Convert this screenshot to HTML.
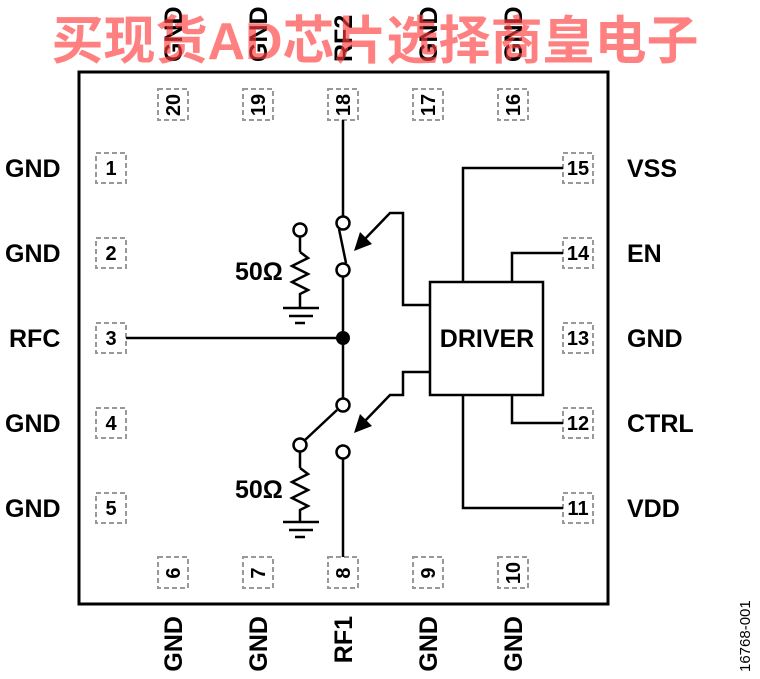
<!DOCTYPE html>
<html><head><meta charset="utf-8"><style>html,body{margin:0;padding:0;background:#fff}svg{display:block}</style></head>
<body>
<svg width="760" height="679" viewBox="0 0 760 679" xmlns="http://www.w3.org/2000/svg" font-family="Liberation Sans, Arial, sans-serif" font-weight="bold">
<rect x="79" y="72" width="529" height="532" fill="none" stroke="#000" stroke-width="3"/>
<g fill="none" stroke="#999" stroke-width="2" stroke-dasharray="5,3">
<rect x="96" y="153" width="30" height="30"/><rect x="96" y="238" width="30" height="30"/><rect x="96" y="323" width="30" height="30"/><rect x="96" y="408" width="30" height="30"/><rect x="96" y="493" width="30" height="30"/>
<rect x="563" y="153" width="30" height="30"/><rect x="563" y="238" width="30" height="30"/><rect x="563" y="323" width="30" height="30"/><rect x="563" y="408" width="30" height="30"/><rect x="563" y="493" width="30" height="30"/>
<rect x="158" y="89" width="30" height="31"/><rect x="243" y="89" width="30" height="31"/><rect x="328" y="89" width="30" height="31"/><rect x="413" y="89" width="30" height="31"/><rect x="498" y="89" width="30" height="31"/>
<rect x="158" y="557" width="30" height="31"/><rect x="243" y="557" width="30" height="31"/><rect x="328" y="557" width="30" height="31"/><rect x="413" y="557" width="30" height="31"/><rect x="498" y="557" width="30" height="31"/>
</g>
<g font-size="20" text-anchor="middle">
<text x="111" y="175">1</text><text x="111" y="260">2</text><text x="111" y="345">3</text><text x="111" y="430">4</text><text x="111" y="515">5</text>
<text x="578" y="175">15</text><text x="578" y="260">14</text><text x="578" y="345">13</text><text x="578" y="430">12</text><text x="578" y="515">11</text>
<text transform="translate(180,105) rotate(-90)">20</text><text transform="translate(265,105) rotate(-90)">19</text><text transform="translate(350,105) rotate(-90)">18</text><text transform="translate(435,105) rotate(-90)">17</text><text transform="translate(520,105) rotate(-90)">16</text>
<text transform="translate(180,573) rotate(-90)">6</text><text transform="translate(265,573) rotate(-90)">7</text><text transform="translate(350,573) rotate(-90)">8</text><text transform="translate(435,573) rotate(-90)">9</text><text transform="translate(520,573) rotate(-90)">10</text>
</g>
<g font-size="25">
<text x="5" y="177">GND</text><text x="9" y="347">RFC</text><text x="5" y="262">GND</text><text x="5" y="432">GND</text><text x="5" y="517">GND</text>
<text x="627" y="177">VSS</text><text x="627" y="262">EN</text><text x="627" y="347">GND</text><text x="627" y="432">CTRL</text><text x="627" y="517">VDD</text>
<text transform="translate(182,62) rotate(-90)">GND</text><text transform="translate(267,62) rotate(-90)">GND</text><text transform="translate(352,62) rotate(-90)">RF2</text><text transform="translate(437,62) rotate(-90)">GND</text><text transform="translate(522,62) rotate(-90)">GND</text>
<g text-anchor="end"><text transform="translate(182,616) rotate(-90)">GND</text><text transform="translate(267,616) rotate(-90)">GND</text><text transform="translate(352,616) rotate(-90)">RF1</text><text transform="translate(437,616) rotate(-90)">GND</text><text transform="translate(522,616) rotate(-90)">GND</text></g>
<text x="235" y="280">50Ω</text><text x="235" y="498">50Ω</text>
</g>
<text transform="translate(750,672) rotate(-90)" font-size="15" font-weight="normal">16768-001</text>
<g fill="none" stroke="#000" stroke-width="2.5">
<line x1="343" y1="120" x2="343" y2="216"/>
<line x1="343" y1="277" x2="343" y2="398"/>
<line x1="343" y1="459" x2="343" y2="557"/>
<line x1="126" y1="338" x2="343" y2="338"/>
<line x1="339" y1="229" x2="346" y2="263"/>
<line x1="337" y1="410" x2="305" y2="440"/>
<rect x="430" y="282" width="113" height="113"/>
<polyline points="563,168 463,168 463,282"/>
<polyline points="563,253 512,253 512,282"/>
<polyline points="563,423 512,423 512,395"/>
<polyline points="563,508 463,508 463,395"/>
<polyline points="430,305 403,305 403,213 390,213 362,242"/>
<polyline points="430,372 403,372 403,395 390,395 362,424"/>
<line x1="300" y1="237" x2="300" y2="252"/>
<polyline points="300,252 308,258 292,266 308,274 292,282 308,290 300,294 300,308"/>
<line x1="300" y1="452" x2="300" y2="468"/>
<polyline points="300,468 308,474 292,482 308,490 292,498 308,506 300,510 300,522"/>
</g>
<g stroke="#000" stroke-width="2.5">
<line x1="283" y1="308" x2="319" y2="308"/><line x1="289" y1="316" x2="313" y2="316"/><line x1="295" y1="323" x2="305" y2="323"/>
<line x1="283" y1="522" x2="319" y2="522"/><line x1="289" y1="530" x2="313" y2="530"/><line x1="295" y1="537" x2="305" y2="537"/>
</g>
<g fill="#fff" stroke="#000" stroke-width="2.5">
<circle cx="343" cy="223" r="6.5"/><circle cx="343" cy="270" r="6.5"/><circle cx="343" cy="405" r="6.5"/><circle cx="343" cy="452" r="6.5"/>
<circle cx="300" cy="230" r="6.5"/><circle cx="300" cy="445" r="6.5"/>
</g>
<circle cx="343" cy="338" r="7" fill="#000"/>
<polygon points="354,251 360,232 372,244" fill="#000"/>
<polygon points="354,433 360,414 372,426" fill="#000"/>
<text x="487" y="347" font-size="25" text-anchor="middle">DRIVER</text>
<text x="375" y="59" font-size="52" fill="rgba(255,60,60,0.65)" text-anchor="middle" font-family="Liberation Sans, Noto Sans CJK SC, sans-serif">买现货AD芯片选择商皇电子</text>
</svg>
</body></html>
